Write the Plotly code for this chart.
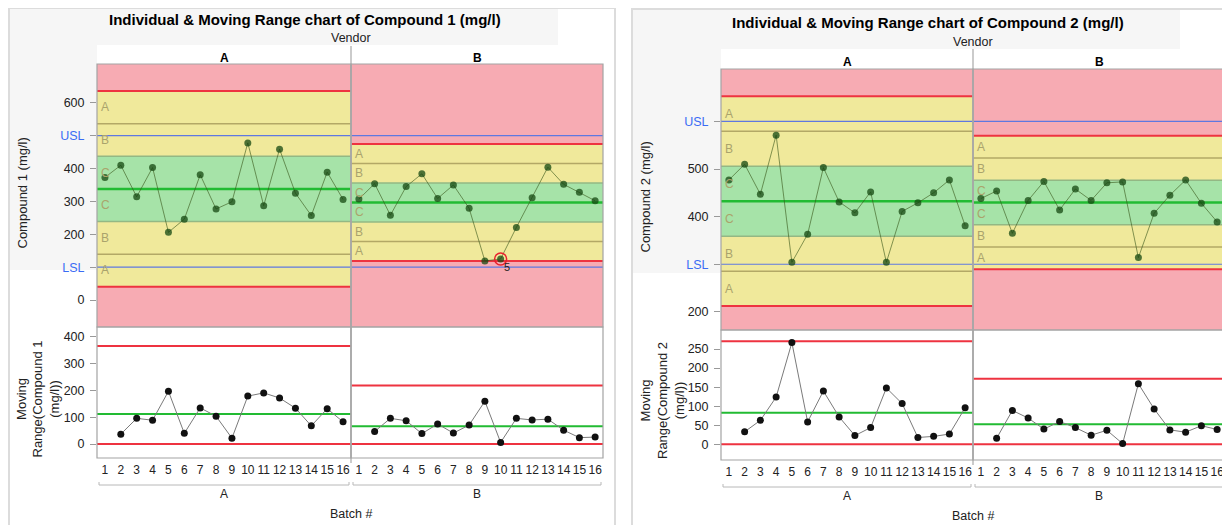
import plotly.graph_objects as go

# ---------------- data ----------------
batch = list(range(1, 17))
vendors = ["A", "B"]

c1_A = [373, 410, 314, 403, 206, 246, 381, 277, 299, 478, 287, 459, 325, 257, 389, 306]
c1_B = [307, 354, 258, 345, 384, 309, 350, 279, 119, 125, 221, 311, 404, 352, 328, 302]
c2_A = [477, 510, 447, 571, 304, 363, 503, 431, 408, 452, 304, 411, 429, 450, 477, 381]
c2_B = [438, 454, 365, 434, 474, 414, 458, 434, 471, 473, 314, 407, 445, 477, 428, 389]

c1_spec = [100, 500]   # LSL, USL
c2_spec = [300, 600]

c1_ticks = [0, 100, 200, 300, 400, 500, 600]
c1_ticktext = ["0", "LSL", "200", "300", "400", "USL", "600"]
c2_ticks = [200, 300, 400, 500, 600]
c2_ticktext = ["200", "LSL", "400", "500", "USL"]
mr1_ticks = [0, 100, 200, 300, 400]
mr2_ticks = [0, 50, 100, 150, 200, 250]

# flagged point (test 5) : compound 1, vendor B, batch 10
flag_vendor, flag_batch, flag_label = "B", 10, "5"

# ---------------- styling / layout ----------------
W, H = 1230, 525          # browser window
OX, OY = 8, 8             # page body margin
FW, FH = W - OX, H - OY   # figure size
FONT = "Liberation Sans, Arial, Helvetica, sans-serif"
PINK = "#f7abb3"
YELLOW = "#f0e99b"
GREEN = "#a6e3a8"
ZONE_LINE = "#b3a866"
ZONE_LINE_G = "#93b884"
RED = "#ee3340"
CGREEN = "#22bb33"
SPEC = "#5f78e0"
FRAME = "#a3a3a3"
LABEL_BLUE = "#3a6cf4"


def px(x):
    return (x - OX) / FW


def py(y):
    return 1 - (y - OY) / FH


def moving_range(v):
    return [None] + [abs(v[i] - v[i - 1]) for i in range(1, len(v))]


fig = go.Figure()
shapes = []
annotations = []
layout = {}

charts = [
    dict(name="Compound 1", data=[c1_A, c1_B], spec=c1_spec, ticks=c1_ticks, ticktext=c1_ticktext,
         mrticks=mr1_ticks, irange=[-82, 718], mrange=[-52, 437],
         left=97, mid=351, right=603, top=64, ibot=327, mbot=458,
         fl=9, ft=8, fr=615, bandr=558, bandb=45, ylb=270,
         title_x=107, title_y=19, vendor_y=38, header_y=58, header_top=46,
         ylab_x=22, mrlab_x=38, brk_y=485, brl_y=494, batch_y=514,
         ax=[1, 2, 3, 4], ay=[1, 2]),
    dict(name="Compound 2", data=[c2_A, c2_B], spec=c2_spec, ticks=c2_ticks, ticktext=c2_ticktext,
         mrticks=mr2_ticks, irange=[162, 710], mrange=[-41, 300],
         left=721, mid=973, right=1225, top=69, ibot=330, mbot=460,
         fl=632, ft=9, fr=1240, bandr=1180, bandb=49, ylb=273,
         title_x=730, title_y=22, vendor_y=42, header_y=62, header_top=49,
         ylab_x=645, mrlab_x=662, brk_y=487, brl_y=496, batch_y=516,
         ax=[5, 6, 7, 8], ay=[3, 4]),
]


def aname(prefix, n):
    return prefix if n == 1 else f"{prefix}{n}"


for ch in charts:
    # chart frame + grey bands
    shapes.append(dict(type="rect", xref="paper", yref="paper", x0=px(ch["fl"]), x1=px(ch["fr"]),
                       y0=py(540), y1=py(ch["ft"]), line=dict(color="#dcdcdc", width=2), layer="below"))
    shapes.append(dict(type="rect", xref="paper", yref="paper", x0=px(ch["fl"] + 1), x1=px(ch["bandr"]),
                       y0=py(ch["bandb"]), y1=py(ch["ft"] + 1), fillcolor="#f6f6f6", line=dict(width=0), layer="below"))
    shapes.append(dict(type="rect", xref="paper", yref="paper", x0=px(ch["fl"] + 1), x1=px(ch["left"]),
                       y0=py(ch["ylb"]), y1=py(ch["ft"] + 1), fillcolor="#f6f6f6", line=dict(width=0), layer="below"))

    iy = ch["ay"][0]
    my = ch["ay"][1]
    yname_i = aname("yaxis", iy)
    yname_m = aname("yaxis", my)
    yref_i = aname("y", iy)
    yref_m = aname("y", my)

    panels = [(ch["left"], ch["mid"]), (ch["mid"], ch["right"])]
    for k, vendor in enumerate(vendors):
        vals = ch["data"][k]
        mr = moving_range(vals)
        mrv = [m for m in mr if m is not None]
        center = sum(vals) / len(vals)
        mrbar = sum(mrv) / len(mrv)
        sig = mrbar / 1.128
        ucl, lcl = center + 3 * sig, center - 3 * sig
        mr_ucl = 3.267 * mrbar

        xi = ch["ax"][k]
        xm = ch["ax"][k + 2]
        xname_i, xname_m = aname("xaxis", xi), aname("xaxis", xm)
        xref_i, xref_m = aname("x", xi), aname("x", xm)
        dom = [px(panels[k][0]), min(1.0, px(panels[k][1]))]

        layout[xname_i] = dict(domain=dom, anchor=yref_i, range=[0.5, 16.5], showticklabels=False,
                               showgrid=False, zeroline=False, ticks="", showline=False)
        layout[xname_m] = dict(domain=dom, anchor=yref_m, range=[0.5, 16.5], tickvals=batch,
                               ticktext=[str(b) for b in batch], showgrid=False, zeroline=False,
                               ticks="outside", ticklen=1, tickcolor="rgba(0,0,0,0)",
                               tickfont=dict(size=12, color="#222", family=FONT), showline=False)

        lo, hi = ch["irange"]
        xd = xref_i + " domain"

        def band(y0, y1, col):
            shapes.append(dict(type="rect", xref=xd, yref=yref_i, x0=0, x1=1, y0=max(y0, lo), y1=min(y1, hi),
                               fillcolor=col, line=dict(width=0), layer="below"))

        def hline(y, col, w, xr=xd, yr=yref_i):
            shapes.append(dict(type="line", xref=xr, yref=yr, x0=0, x1=1, y0=y, y1=y,
                               line=dict(color=col, width=w), layer="below"))

        band(ucl, hi, PINK)
        band(lo, lcl, PINK)
        band(center + 2 * sig, ucl, YELLOW)
        band(center + sig, center + 2 * sig, YELLOW)
        band(center - 2 * sig, center - sig, YELLOW)
        band(lcl, center - 2 * sig, YELLOW)
        band(center - sig, center + sig, GREEN)
        hline(center + 2 * sig, ZONE_LINE, 1.5)
        hline(center - 2 * sig, ZONE_LINE, 1.5)
        hline(center + sig, ZONE_LINE_G, 1.5)
        hline(center - sig, ZONE_LINE_G, 1.5)
        for s in ch["spec"]:
            hline(s, SPEC, 1.2)
        hline(ucl, RED, 2)
        hline(lcl, RED, 2)
        hline(center, CGREEN, 2.5)

        # zone labels
        zl = [("A", center + 2.5 * sig), ("B", center + 1.5 * sig), ("C", center + 0.5 * sig),
              ("C", center - 0.5 * sig), ("B", center - 1.5 * sig), ("A", center - 2.5 * sig)]
        for t, yv in zl:
            annotations.append(dict(xref=xd, yref=yref_i, x=0.008, y=yv, text=t, showarrow=False,
                                    xanchor="left", yanchor="middle",
                                    font=dict(size=12, color="#aaa36c", family=FONT)))

        # MR panel lines
        xdm = xref_m + " domain"
        hline(mr_ucl, RED, 2, xdm, yref_m)
        hline(0, RED, 2, xdm, yref_m)
        hline(mrbar, CGREEN, 2, xdm, yref_m)

        # frames
        for xr, yr in [(xd, yref_i + " domain"), (xdm, yref_m + " domain")]:
            shapes.append(dict(type="rect", xref=xr, yref=yr, x0=0, x1=1, y0=0, y1=1,
                               line=dict(color=FRAME, width=1.2), layer="above"))

        # traces
        fig.add_trace(go.Scatter(x=batch, y=vals, xaxis=xref_i, yaxis=yref_i, mode="lines+markers",
                                 line=dict(color="rgba(55,85,25,0.6)", width=1),
                                 marker=dict(color="rgba(22,72,18,0.75)", size=7),
                                 showlegend=False, hoverinfo="x+y"))
        fig.add_trace(go.Scatter(x=batch, y=mr, xaxis=xref_m, yaxis=yref_m, mode="lines+markers",
                                 line=dict(color="#7a7a7a", width=1),
                                 marker=dict(color="#111111", size=7),
                                 showlegend=False, hoverinfo="x+y", connectgaps=False))

        if ch["name"] == "Compound 1" and vendor == flag_vendor:
            fv = vals[flag_batch - 1]
            fig.add_trace(go.Scatter(x=[flag_batch], y=[fv], xaxis=xref_i, yaxis=yref_i, mode="markers",
                                     marker=dict(symbol="circle-open", color="#e8222e", size=12,
                                                 line=dict(width=1.5)),
                                     showlegend=False, hoverinfo="skip"))
            annotations.append(dict(xref=xref_i, yref=yref_i, x=flag_batch, y=fv, text=flag_label,
                                    showarrow=False, xshift=6, yshift=-8,
                                    font=dict(size=11, color="#222", family=FONT)))

        # headers and brackets
        cx = (panels[k][0] + panels[k][1]) / 2
        annotations.append(dict(xref="paper", yref="paper", x=px(cx), y=py(ch["header_y"]),
                                text=f"<b>{vendor}</b>", showarrow=False, xanchor="center", yanchor="middle",
                                font=dict(size=12, color="#000", family=FONT)))
        bx0, bx1 = panels[k][0] + 2, panels[k][1] - 2
        by = ch["brk_y"]
        shapes.append(dict(type="path", xref="paper", yref="paper",
                           path=f"M {px(bx0)} {py(by - 3)} L {px(bx0)} {py(by)} L {px(bx1)} {py(by)} L {px(bx1)} {py(by - 3)}",
                           line=dict(color="#b8b8b8", width=1)))
        annotations.append(dict(xref="paper", yref="paper", x=px(cx), y=py(ch["brl_y"]), text=vendor,
                                showarrow=False, xanchor="center", yanchor="middle",
                                font=dict(size=12, color="#222", family=FONT)))

    # y axes
    layout[yname_i] = dict(domain=[py(ch["ibot"]), py(ch["top"])], anchor=aname("x", ch["ax"][0]),
                           range=ch["irange"], tickvals=ch["ticks"],
                           ticktext=[f"<span style='color:{LABEL_BLUE}'>{t}</span>" if t in ("USL", "LSL") else t
                                     for t in ch["ticktext"]],
                           ticks="outside", ticklen=6, tickcolor="#999", showgrid=False, zeroline=False,
                           showline=False, tickfont=dict(size=12.5, color="#222", family=FONT),
                           ticklabelstandoff=3)
    layout[yname_m] = dict(domain=[py(ch["mbot"]), py(ch["ibot"])], anchor=aname("x", ch["ax"][2]),
                           range=ch["mrange"], tickvals=ch["mrticks"], ticks="outside", ticklen=6,
                           tickcolor="#999", showgrid=False, zeroline=False, showline=False,
                           tickfont=dict(size=12.5, color="#222", family=FONT), ticklabelstandoff=3)

    # divider between panels
    shapes.append(dict(type="line", xref="paper", yref="paper", x0=px(ch["mid"]), x1=px(ch["mid"]),
                       y0=py(ch["mbot"] + 5), y1=py(ch["header_top"]), line=dict(color="#a8a8a8", width=1.2)))

    # texts
    annotations.append(dict(xref="paper", yref="paper", x=px(ch["title_x"]), y=py(ch["title_y"]),
                            text=f"<b>Individual & Moving Range chart of {ch['name']} (mg/l)</b>",
                            showarrow=False, xanchor="left", yanchor="middle",
                            font=dict(size=15, color="#000", family=FONT)))
    annotations.append(dict(xref="paper", yref="paper", x=px(ch["mid"]), y=py(ch["vendor_y"]), text="Vendor",
                            showarrow=False, xanchor="center", yanchor="middle",
                            font=dict(size=12.5, color="#222", family=FONT)))
    annotations.append(dict(xref="paper", yref="paper", x=px(ch["ylab_x"]), y=py((ch["top"] + ch["ibot"]) / 2 - 2),
                            text=f"{ch['name']} (mg/l)", textangle=-90, showarrow=False,
                            xanchor="center", yanchor="middle", font=dict(size=13, color="#222", family=FONT)))
    annotations.append(dict(xref="paper", yref="paper", x=px(ch["mrlab_x"]), y=py((ch["ibot"] + ch["mbot"]) / 2 + 6),
                            text=f"Moving<br>Range({ch['name']}<br>(mg/l))", textangle=-90, showarrow=False,
                            xanchor="center", yanchor="middle", font=dict(size=13, color="#222", family=FONT)))
    annotations.append(dict(xref="paper", yref="paper", x=px(ch["mid"]), y=py(ch["batch_y"]), text="Batch #",
                            showarrow=False, xanchor="center", yanchor="middle",
                            font=dict(size=12.5, color="#222", family=FONT)))

fig.update_layout(width=FW, height=FH, margin=dict(l=0, r=0, t=0, b=0), paper_bgcolor="white",
                  plot_bgcolor="white", showlegend=False, shapes=shapes, annotations=annotations,
                  font=dict(family=FONT), **layout)

fig.write_html("out.html")
